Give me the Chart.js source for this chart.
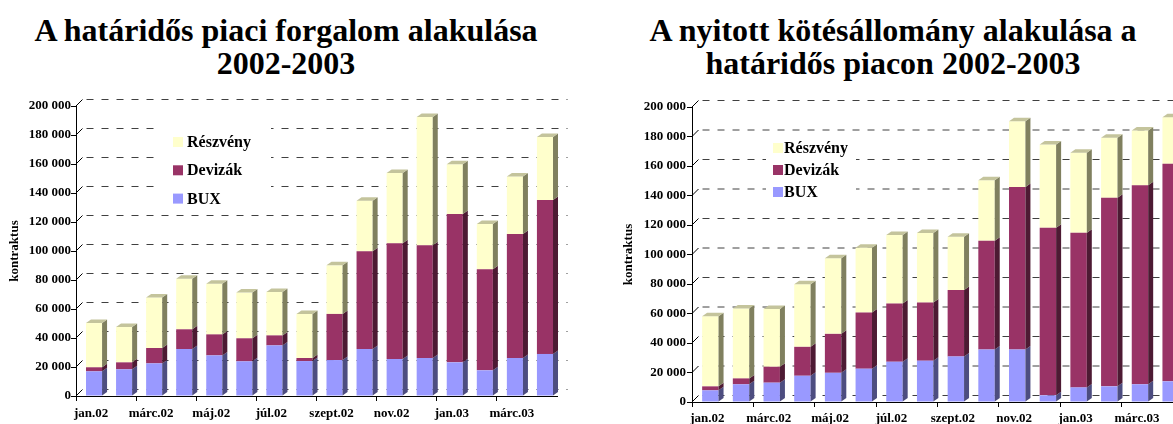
<!DOCTYPE html>
<html>
<head>
<meta charset="utf-8">
<script src="https://cdn.jsdelivr.net/npm/chart.js@4/dist/chart.umd.min.js"></script>
<style>
html, body { margin: 0; padding: 0; background: #fff; overflow: hidden; width: 1173px; height: 424px; }
.title { position: absolute; font-family: "Liberation Serif", "Times New Roman", serif; font-weight: bold;
         font-size: 32px; line-height: 33px; text-align: center; color: #000; white-space: nowrap; }
#t1 { left: 0; width: 572px; top: 14px; }
#t2 { left: 600px; width: 586px; top: 14px; }
canvas { position: absolute; top: 0; }
#c1 { left: 0; }
#c2 { left: 600px; }
</style>
</head>
<body>
<div class="title" id="t1">A határidős piaci forgalom alakulása<br>2002-2003</div>
<div class="title" id="t2">A nyitott kötésállomány alakulása a<br>határidős piacon 2002-2003</div>
<canvas id="c1" width="580" height="424"></canvas>
<canvas id="c2" width="600" height="424"></canvas>
<script>
// Months (only every second one is labelled on the axis)
const months = ['jan.02', 'febr.02', 'márc.02', 'ápr.02', 'máj.02', 'jún.02', 'júl.02', 'aug.02',
                'szept.02', 'okt.02', 'nov.02', 'dec.02', 'jan.03', 'febr.03', 'márc.03', 'ápr.03'];

// Turnover (contracts) - segment values
const turnoverBux = [17000, 18400, 22500, 32400, 28000, 23900, 34900, 24100, 24800, 32400, 25500, 26200, 23200, 17700, 26200, 29000];
const turnoverDeviza = [2800, 4800, 10600, 13600, 14500, 15900, 6900, 2100, 31800, 67400, 79800, 77700, 102300, 69700, 85500, 106200];
const turnoverReszveny = [30500, 24400, 34900, 34900, 35000, 31500, 29900, 30400, 33500, 34900, 48500, 88500, 34300, 31200, 39600, 43400];

// Open interest (contracts) - segment values
const openBux = [7900, 12000, 13100, 17800, 19800, 22600, 27300, 28000, 30900, 35600, 35600, 4500, 9900, 10600, 12000, 14000];
const openDeviza = [2700, 4000, 10800, 19600, 26400, 38100, 39500, 39400, 45100, 73800, 110100, 113700, 104900, 127900, 135000, 147500];
const openReszveny = [47600, 47400, 39200, 42400, 51200, 43900, 46400, 47200, 36100, 41000, 44600, 56400, 54100, 40600, 37000, 31600];

const seriesNames = ['BUX', 'Devizák', 'Részvény'];
const frontColors = ['#9999ff', '#993366', '#ffffcc'];
const sideColors = ['#4d4d80', '#4d1a33', '#80805f'];
const topColor = '#c4c49c';

const serif = '"Liberation Serif", "Times New Roman", serif';

function formatThousands(v) {
    return String(v).replace(/\B(?=(\d{3})+(?!\d))/g, ' ');
}

// Fake 3D: back wall gridlines before bars, side/top faces after bars
const bar3d = {
    id: 'bar3d',
    beforeDatasetsDraw(chart, args, o) {
        const ctx = chart.ctx;
        const xs = chart.scales.x, ys = chart.scales.y;
        ctx.save();
        ys.ticks.forEach(t => {
            const py = ys.getPixelForValue(t.value);
            ctx.setLineDash([]);
            ctx.strokeStyle = '#000';
            ctx.lineWidth = 1;
            ctx.beginPath();
            ctx.moveTo(xs.left, py);
            ctx.lineTo(xs.left + o.wallDx, py - o.wallDy);
            ctx.stroke();
            ctx.strokeStyle = o.gridColor;
            ctx.setLineDash([7, 8]);
            ctx.beginPath();
            ctx.moveTo(xs.left + o.wallDx + 4, py - o.wallDy);
            ctx.lineTo(xs.right + o.wallDx + 4, py - o.wallDy);
            ctx.stroke();
        });
        ctx.restore();

        // legend box inside the plot
        const lg = o.legend;
        ctx.save();
        ctx.fillStyle = '#fff';
        ctx.fillRect(lg.x, lg.y, lg.w, lg.h);
        ctx.font = 'bold ' + lg.size + 'px ' + serif;
        ctx.textBaseline = 'middle';
        const n = chart.data.datasets.length;
        for (let k = 0; k < n; k++) {
            const ds = chart.data.datasets[n - 1 - k];
            const cy = lg.firstY + k * lg.step;
            ctx.fillStyle = ds.backgroundColor;
            ctx.fillRect(lg.markerX, cy - 5, 10, 10);
            ctx.fillStyle = '#000';
            ctx.fillText(ds.label, lg.textX, cy + 1);
        }
        ctx.restore();

        // bars sit a little deeper than the front of the floor
        ctx.save();
        ctx.translate(o.shift, 0);
    },
    afterDatasetsDraw(chart, args, o) {
        const ctx = chart.ctx;
        const n = chart.data.datasets.length;
        chart.data.datasets.forEach((ds, di) => {
            const meta = chart.getDatasetMeta(di);
            meta.data.forEach(bar => {
                const p = bar.getProps(['x', 'y', 'base', 'width'], true);
                const r = p.x + p.width / 2;
                const l = p.x - p.width / 2;
                const top = Math.min(p.y, p.base), bot = Math.max(p.y, p.base);
                if (bot - top < 0.1) return;
                ctx.fillStyle = sideColors[di];
                ctx.beginPath();
                ctx.moveTo(r, bot);
                ctx.lineTo(r + o.dx, bot - o.dy);
                ctx.lineTo(r + o.dx, top - o.dy);
                ctx.lineTo(r, top);
                ctx.closePath();
                ctx.fill();
                if (di === n - 1) {
                    ctx.fillStyle = topColor;
                    ctx.beginPath();
                    ctx.moveTo(l, top);
                    ctx.lineTo(l + o.dx, top - o.dy);
                    ctx.lineTo(r + o.dx, top - o.dy);
                    ctx.lineTo(r, top);
                    ctx.closePath();
                    ctx.fill();
                }
            });
        });
        ctx.restore();
    }
};

function buildChart(id, bux, deviza, reszveny, cfg) {
    const values = [bux, deviza, reszveny];
    return new Chart(document.getElementById(id), {
        type: 'bar',
        data: {
            labels: months,
            datasets: values.map((v, i) => ({
                label: seriesNames[i],
                data: v,
                backgroundColor: frontColors[i],
                borderWidth: 0
            }))
        },
        options: {
            responsive: false,
            animation: false,
            layout: { padding: { top: cfg.top, right: cfg.right, bottom: 0, left: 0 } },
            datasets: { bar: { categoryPercentage: 1, barPercentage: 0.535 } },
            plugins: {
                legend: { display: false },
                tooltip: { enabled: false },
                bar3d: {
                    wallDx: 6.5, wallDy: 6.5, dx: 5, dy: 3.5, shift: 3,
                    gridColor: '#404040',
                    legend: cfg.legend
                }
            },
            scales: {
                x: {
                    stacked: true,
                    afterFit: s => { s.height = cfg.xHeight; },
                    grid: {
                        offset: true,
                        drawOnChartArea: false,
                        tickLength: 5,
                        color: c => (c.index % 2 === 0 ? '#000' : 'rgba(0,0,0,0)')
                    },
                    border: { color: '#000', width: 1 },
                    ticks: {
                        autoSkip: false,
                        maxRotation: 0,
                        padding: cfg.xPad,
                        color: '#000',
                        font: { family: serif, weight: 'bold', size: 13 },
                        callback: function (v, i) { return i % 2 === 0 ? this.getLabelForValue(v) : ''; }
                    }
                },
                y: {
                    stacked: true,
                    min: 0,
                    max: 200000,
                    afterFit: s => { s.width = cfg.yWidth; },
                    grid: { drawOnChartArea: false, tickLength: 5, color: '#000' },
                    border: { color: '#000', width: 1 },
                    ticks: {
                        stepSize: 20000,
                        padding: cfg.yPad,
                        color: '#000',
                        font: { family: serif, weight: 'bold', size: 13 },
                        callback: v => formatThousands(v)
                    },
                    title: {
                        display: true,
                        text: 'kontraktus',
                        color: '#000',
                        padding: { top: cfg.titlePad, bottom: 0 },
                        font: { family: serif, weight: 'bold', size: 13 }
                    }
                }
            }
        },
        plugins: [bar3d]
    });
}

buildChart('c1', turnoverBux, turnoverDeviza, turnoverReszveny, {
    top: 106, right: 23, xHeight: 28, yWidth: 76, xPad: 5, yPad: 0, titlePad: 7,
    legend: { x: 155, y: 126, w: 116, h: 82, markerX: 173, textX: 187, firstY: 142, step: 28.3, size: 16 }
});

buildChart('c2', openBux, openDeviza, openReszveny, {
    top: 107, right: 17, xHeight: 22, yWidth: 92, xPad: 4, yPad: 1, titlePad: 21,
    legend: { x: 166, y: 134, w: 90, h: 68, markerX: 173, textX: 184, firstY: 148, step: 22, size: 16 }
});
</script>
</body>
</html>
